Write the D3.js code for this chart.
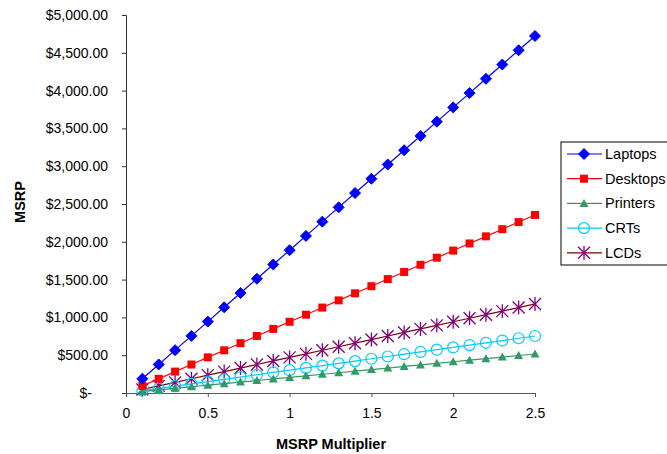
<!DOCTYPE html>
<html><head><meta charset="utf-8">
<script src="https://cdn.jsdelivr.net/npm/d3@7/dist/d3.min.js"></script>
<style>body{margin:0;background:#fff;}svg{display:block;font-family:"Liberation Sans",Arial,sans-serif;}</style>
</head><body><svg id="c" width="667" height="454"></svg>
<script>
const multipliers = [0.1,0.2,0.3,0.4,0.5,0.6,0.7,0.8,0.9,1.0,1.1,1.2,1.3,1.4,1.5,1.6,1.7,1.8,1.9,2.0,2.1,2.2,2.3,2.4,2.5];
const laptops = [188.9,377.8,566.7,755.6,944.5,1133.4,1322.3,1511.2,1700.1,1889,2077.9,2266.8,2455.7,2644.6,2833.5,3022.4,3211.3,3400.2,3589.1,3778,3966.9,4155.8,4344.7,4533.6,4722.5];
const desktops = [94,188,283,377,471,565,659,754,848,942,1036,1130,1225,1319,1413,1507,1601,1696,1790,1884,1978,2072,2167,2261,2355];
const printers = [21,41,62,83,103,124,144,165,186,206,227,248,268,289,310,330,351,372,392,413,434,454,475,496,516];
const crts = [30,60,91,121,151,181,211,241,272,302,332,362,392,422,453,483,513,543,573,603,634,664,694,724,754];
const lcds = [47,94,141,188,236,283,330,377,424,471,518,565,612,659,707,754,801,848,895,942,989,1036,1083,1130,1178];
const seriesNames = ["Laptops","Desktops","Printers","CRTs","LCDs"];
const xTicks = [0,0.5,1,1.5,2,2.5];
const yTicks = [0,500,1000,1500,2000,2500,3000,3500,4000,4500,5000];

const series = [
  {name:seriesNames[0], values:laptops, line:"#0000FF", marker:"diamond", fill:"#0000FF", stroke:"#0000FF"},
  {name:seriesNames[1], values:desktops, line:"#FF0000", marker:"square", fill:"#FF0000", stroke:"#FF0000"},
  {name:seriesNames[2], values:printers, line:"#339966", marker:"triangle", fill:"#339966", stroke:"#339966"},
  {name:seriesNames[3], values:crts, line:"#00CCFF", marker:"circle", fill:"none", stroke:"#00CCFF"},
  {name:seriesNames[4], values:lcds, line:"#800000", marker:"star", fill:"none", stroke:"#800080"}
];

const FS = 14;
const svg = d3.select("#c");
const L=126, R=535, T=15, B=393;
const x = d3.scaleLinear().domain([0,2.5]).range([L,R]);
const y = d3.scaleLinear().domain([0,5000]).range([B,T]);

const fmt = v => v===0 ? "$-" : "$" + d3.format(",.2f")(v);

// axes
const gy = svg.append("g").attr("transform",`translate(${L},0)`)
  .call(d3.axisLeft(y).tickValues(yTicks).tickFormat(fmt).tickSize(4).tickPadding(14));
gy.select(".domain").attr("stroke","#333");
gy.selectAll(".tick line").attr("stroke","#333");
gy.selectAll("text").attr("font-size",FS).attr("fill","#000").attr("font-family","Liberation Sans, Arial, sans-serif");
gy.selectAll(".tick").filter(d=>d===0).select("text").attr("dx",-16);

const gx = svg.append("g").attr("transform",`translate(0,${B})`)
  .call(d3.axisBottom(x).tickValues(xTicks).tickFormat(d3.format("")).tickSize(4).tickPadding(11));
gx.select(".domain").attr("stroke","#555");
gx.selectAll(".tick line").attr("stroke","#555");
gx.selectAll("text").attr("font-size",FS).attr("fill","#000").attr("font-family","Liberation Sans, Arial, sans-serif");

// titles
svg.append("text").attr("x",331).attr("y",449).attr("text-anchor","middle")
  .attr("font-weight","bold").attr("font-size",14.5).text("MSRP Multiplier");
svg.append("text").attr("transform","translate(25,202) rotate(-90)").attr("text-anchor","middle")
  .attr("font-weight","bold").attr("font-size",14.5).text("MSRP");

function drawMarker(g, type, fill, stroke){
  if(type==="diamond") g.append("path").attr("d","M0,-5.5L5.5,0L0,5.5L-5.5,0Z").attr("fill",fill).attr("stroke",stroke);
  else if(type==="square") g.append("rect").attr("x",-4).attr("y",-4).attr("width",8).attr("height",8).attr("fill",fill);
  else if(type==="triangle") g.append("path").attr("d","M0,-4.5L4.5,3.5L-4.5,3.5Z").attr("fill",fill);
  else if(type==="circle") g.append("circle").attr("r",5.5).attr("fill","none").attr("stroke",stroke).attr("stroke-width",1.2);
  else if(type==="star") g.append("path").attr("d","M-6,-6L6,6M-6,6L6,-6M0,-7L0,7").attr("stroke",stroke).attr("stroke-width",1.3).attr("fill","none");
}

const line = d3.line().x((d,i)=>x(multipliers[i])).y(d=>y(d));
[...series].reverse().forEach(s=>{
  const g = svg.append("g");
  g.append("path").datum(s.values).attr("d",line).attr("fill","none").attr("stroke",s.line).attr("stroke-width",1.2);
  s.values.forEach((v,i)=>{
    const m = g.append("g").attr("transform",`translate(${x(multipliers[i])},${y(v)})`);
    drawMarker(m, s.marker, s.fill, s.stroke);
  });
});

// legend
const lg = svg.append("g").attr("transform","translate(561,142)");
lg.append("rect").attr("x",0).attr("y",0).attr("width",120).attr("height",123).attr("fill","#fff").attr("stroke","#000").attr("stroke-width",1);
series.forEach((s,i)=>{
  const yy = 12 + i*24.7;
  lg.append("line").attr("x1",6).attr("x2",41).attr("y1",yy).attr("y2",yy).attr("stroke",s.line).attr("stroke-width",1.2);
  const m = lg.append("g").attr("transform",`translate(23,${yy})`);
  drawMarker(m, s.marker, s.fill, s.stroke);
  lg.append("text").attr("x",44).attr("y",yy+5).attr("font-size",14.5).text(s.name);
});
</script></body></html>
